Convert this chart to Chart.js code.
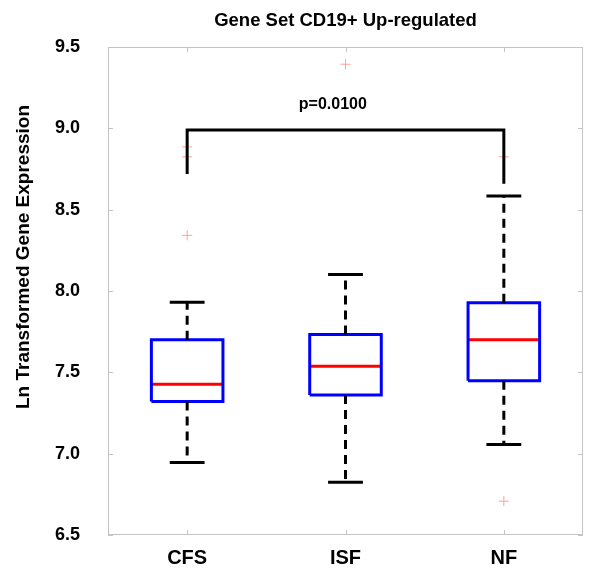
<!DOCTYPE html>
<html>
<head>
<meta charset="utf-8">
<script src="https://cdn.jsdelivr.net/npm/chart.js@4.4.1/dist/chart.umd.min.js"></script>
<style>
  html, body { margin: 0; padding: 0; background: #fff; }
  #wrap { width: 600px; height: 576px; }
</style>
</head>
<body>
<div id="wrap"><canvas id="chart" width="600" height="576"></canvas></div>
<script>
const categories = ["CFS", "ISF", "NF"];
const whiskerLow = [6.945, 6.825, 7.056];
const q1 = [7.321, 7.361, 7.449];
const medians = [7.426, 7.537, 7.7];
const q3 = [7.7, 7.732, 7.928];
const whiskerHigh = [7.931, 8.102, 8.584];
const outliers = [[8.886, 8.825, 8.342], [9.394], [8.825, 6.708]];
const yTickValues = [6.5, 7.0, 7.5, 8.0, 8.5, 9.0, 9.5];

const bracketFrom = 1;
const bracketTo = 3;
const bracketTop = 8.99;
const bracketLegs = [8.72, 8.66];
const pLabel = "p=0.0100";
const pLabelAt = { x: 1.92, y: 9.145 };

const titleText = "Gene Set CD19+ Up-regulated";
const yTitleText = "Ln Transformed Gene Expression";

const BOX_HALF = 0.226;
const CAP_HALF = 0.11;
const FONT = "'Liberation Sans', Arial, sans-serif";

// join several little polylines into one dataset, with gaps between them
function joined(parts) {
  const out = [];
  parts.forEach((pts, i) => {
    if (i > 0) out.push({ x: pts[0].x, y: null });
    out.push(...pts);
  });
  return out;
}

const boxes = joined(categories.map((c, i) => {
  const x = i + 1;
  return [
    { x: x - BOX_HALF, y: q1[i] }, { x: x + BOX_HALF, y: q1[i] },
    { x: x + BOX_HALF, y: q3[i] }, { x: x - BOX_HALF, y: q3[i] },
    { x: x - BOX_HALF, y: q1[i] },
  ];
}));

const medianLines = joined(categories.map((c, i) => [
  { x: i + 1 - BOX_HALF, y: medians[i] }, { x: i + 1 + BOX_HALF, y: medians[i] },
]));

const whiskers = joined(categories.flatMap((c, i) => [
  [{ x: i + 1, y: q3[i] }, { x: i + 1, y: whiskerHigh[i] }],
  [{ x: i + 1, y: q1[i] }, { x: i + 1, y: whiskerLow[i] }],
]));

const caps = joined(categories.flatMap((c, i) => [
  [{ x: i + 1 - CAP_HALF, y: whiskerHigh[i] }, { x: i + 1 + CAP_HALF, y: whiskerHigh[i] }],
  [{ x: i + 1 - CAP_HALF, y: whiskerLow[i] }, { x: i + 1 + CAP_HALF, y: whiskerLow[i] }],
]));

const outlierPoints = categories.flatMap((c, i) => outliers[i].map((v) => ({ x: i + 1, y: v })));

const bracket = [
  { x: bracketFrom, y: bracketLegs[0] },
  { x: bracketFrom, y: bracketTop },
  { x: bracketTo, y: bracketTop },
  { x: bracketTo, y: bracketLegs[1] },
];

function lineSet(data, color, width, dash) {
  return {
    type: "line",
    data,
    borderColor: color,
    borderWidth: width,
    borderDash: dash || [],
    borderCapStyle: "butt",
    borderJoinStyle: "miter",
    pointRadius: 0,
    fill: false,
    tension: 0,
    spanGaps: false,
  };
}

const framePlugin = {
  id: "frame",
  beforeDatasetsDraw(chart) {
    const { ctx, chartArea: a, scales } = chart;
    ctx.save();
    ctx.strokeStyle = "#c4c4c4";
    ctx.lineWidth = 1;
    ctx.strokeRect(a.left + 0.5, a.top + 0.5, a.right - a.left - 1, a.bottom - a.top - 1);
    ctx.beginPath();
    yTickValues.forEach((v) => {
      const y = Math.round(scales.y.getPixelForValue(v)) + 0.5;
      ctx.moveTo(a.left, y); ctx.lineTo(a.left + 5, y);
      ctx.moveTo(a.right - 5, y); ctx.lineTo(a.right, y);
    });
    categories.forEach((c, i) => {
      const x = Math.round(scales.x.getPixelForValue(i + 1)) + 0.5;
      ctx.moveTo(x, a.bottom); ctx.lineTo(x, a.bottom - 5);
      ctx.moveTo(x, a.top); ctx.lineTo(x, a.top + 5);
    });
    ctx.stroke();
    ctx.restore();
  },
  afterDraw(chart) {
    const { ctx, chartArea: a, scales } = chart;
    ctx.save();
    ctx.fillStyle = "#000";
    ctx.textAlign = "center";
    ctx.textBaseline = "middle";
    ctx.font = "bold 18.5px " + FONT;
    ctx.fillText(titleText, (a.left + a.right) / 2, 21);

    ctx.font = "bold 16px " + FONT;
    ctx.fillText(pLabel, scales.x.getPixelForValue(pLabelAt.x), scales.y.getPixelForValue(pLabelAt.y));

    ctx.translate(24, 257);
    ctx.rotate(-Math.PI / 2);
    ctx.font = "bold 19px " + FONT;
    ctx.fillText(yTitleText, 0, 0);
    ctx.restore();
  },
};

new Chart(document.getElementById("chart"), {
  type: "scatter",
  data: {
    datasets: [
      lineSet(whiskers, "#000000", 3, [9, 6]),
      lineSet(caps, "#000000", 3),
      lineSet(boxes, "#0000ff", 3),
      lineSet(medianLines, "#ff0000", 3),
      lineSet(bracket, "#000000", 3),
      {
        type: "scatter",
        data: outlierPoints,
        pointStyle: "cross",
        pointRadius: 5,
        borderColor: "#ffa0a0",
        borderWidth: 1,
        backgroundColor: "#ffa0a0",
      },
    ],
  },
  options: {
    responsive: false,
    animation: false,
    layout: { padding: { top: 47, right: 17, left: 0, bottom: 0 } },
    plugins: { legend: { display: false }, tooltip: { enabled: false }, title: { display: false } },
    scales: {
      x: {
        type: "linear",
        min: 0.5,
        max: 3.5,
        afterBuildTicks(scale) {
          scale.ticks = categories.map((c, i) => ({ value: i + 1 }));
        },
        afterFit(scale) { scale.height = 41; },
        grid: { display: false, drawTicks: false },
        border: { display: false },
        ticks: {
          padding: 11,
          color: "#000",
          font: { family: FONT, size: 20, weight: "bold" },
          callback: (v) => categories[v - 1],
        },
      },
      y: {
        type: "linear",
        min: 6.5,
        max: 9.5,
        afterBuildTicks(scale) {
          scale.ticks = yTickValues.map((v) => ({ value: v }));
        },
        afterFit(scale) { scale.width = 108; },
        grid: { display: false, drawTicks: false },
        border: { display: false },
        ticks: {
          padding: 28,
          color: "#000",
          font: { family: FONT, size: 18, weight: "bold" },
          callback: (v) => v.toFixed(1),
        },
      },
    },
  },
  plugins: [framePlugin],
});
</script>
</body>
</html>
